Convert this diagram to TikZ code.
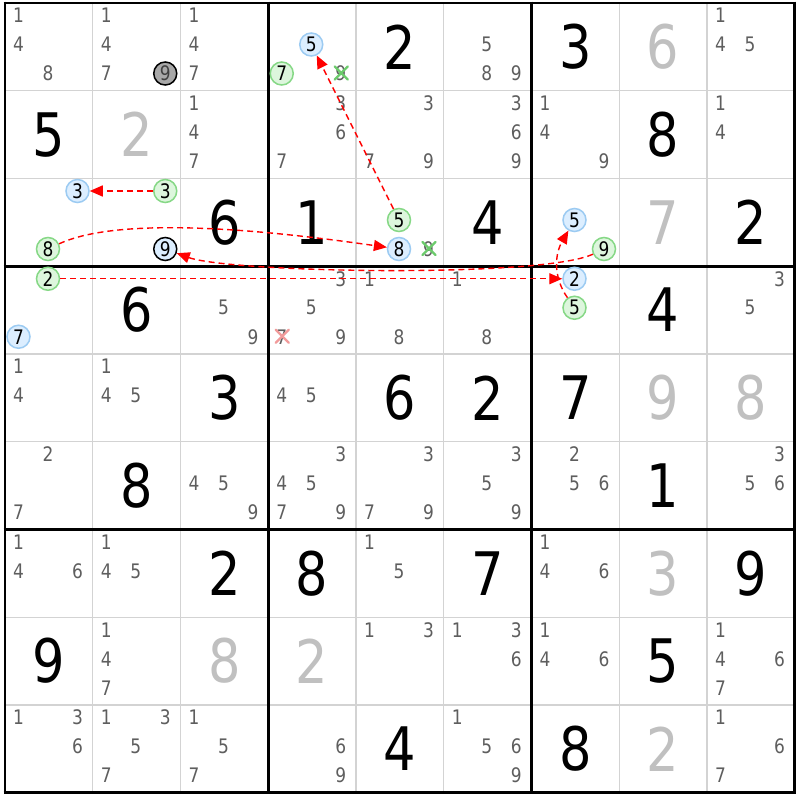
\documentclass[tikz,border=0pt]{standalone}
\usepackage{fontspec}
\setmainfont{DejaVu Sans}[FakeStretch=0.85]
\usetikzlibrary{arrows.meta}

\definecolor{pencil}{HTML}{5E5E5E}
\definecolor{faded}{HTML}{C0C0C0}
\definecolor{gridgrey}{HTML}{D3D3D3}
\definecolor{onfill}{HTML}{DCEEFF}
\definecolor{onring}{HTML}{9CCBF2}
\definecolor{offfill}{HTML}{DDF6DD}
\definecolor{offring}{HTML}{86D886}
\definecolor{pinfill}{HTML}{A8A8A8}
\definecolor{strikegreen}{HTML}{6CCB6C}
\definecolor{strikered}{HTML}{F19A9A}

\begin{document}
\begin{tikzpicture}[x=1pt,y=1pt]
	\tikzstyle{given} = [font={\fontsize{60}{60}\selectfont}, text=black];
	\tikzstyle{solved} = [given, text=faded];
	\tikzstyle{cand} = [font={\fontsize{20}{20}\selectfont}, text=pencil, inner sep=0pt];
	\tikzstyle{ring} = [cand, circle, line width=1.5pt, minimum size=23pt, text=black];
	\tikzstyle{oncand} = [ring, draw=onring, fill=onfill];
	\tikzstyle{offcand} = [ring, draw=offring, fill=offfill];
	\tikzstyle{pincand} = [ring, draw=black, fill=pinfill, text=black!75];
	\tikzstyle{pinon} = [ring, draw=black, fill=onfill];
	\tikzstyle{link} = [->, red, line width=1.4pt, dash pattern=on 6pt off 4pt, >={Triangle[length=13pt,width=11pt]}];
	\tikzstyle{strike} = [line width=2.2pt, line cap=round];

	\def \cs {87.75}

	\useasboundingbox (0,0) rectangle (800,-800);
	\fill[white] (0,0) rectangle (800,-800);

	\begin{scope}[shift={(5,-3)}]
	% grid
	\foreach \i in {1,...,8} {
		\draw[gridgrey, line width=1.3pt] (\i*\cs,0) -- (\i*\cs,-9*\cs);
		\draw[gridgrey, line width=1.3pt] (0,-\i*\cs) -- (9*\cs,-\i*\cs);
	}
	\foreach \i in {0,3,6,9} {
		\draw[black, line width=2.6pt] (\i*\cs,1.3) -- (\i*\cs,-9*\cs-1.3);
		\draw[black, line width=2.6pt] (-1.3,-\i*\cs) -- (9*\cs+1.3,-\i*\cs);
	}

	% digits
	\foreach \row/\col/\d in {1/5/2, 1/7/3, 2/1/5, 2/8/8, 3/3/6, 3/4/1, 3/6/4, 3/9/2,
		4/2/6, 4/8/4, 5/3/3, 5/5/6, 5/6/2, 5/7/7, 6/2/8, 6/8/1,
		7/3/2, 7/4/8, 7/6/7, 7/9/9, 8/1/9, 8/8/5, 9/5/4, 9/7/8}
		\node[given] (g\row\col) at ({(\col-0.5)*\cs},{-(\row-0.5)*\cs}) {\d};
	\foreach \row/\col/\d in {1/8/6, 2/2/2, 3/8/7, 5/8/9, 5/9/8, 7/8/3, 8/3/8, 8/4/2, 9/8/2}
		\node[solved] (g\row\col) at ({(\col-0.5)*\cs},{-(\row-0.5)*\cs}) {\d};

	% pencil marks
	\foreach \row/\col/\list in {1/1/{1,4,8}, 1/2/{1,4,7}, 1/3/{1,4,7}, 1/4/{9}, 1/6/{5,8,9}, 1/9/{1,4,5},
		2/3/{1,4,7}, 2/4/{3,6,7}, 2/5/{3,7,9}, 2/6/{3,6,9}, 2/7/{1,4,9}, 2/9/{1,4},
		3/5/{9},
		4/3/{5,9}, 4/4/{3,5,7,9}, 4/5/{1,8}, 4/6/{1,8}, 4/9/{3,5},
		5/1/{1,4}, 5/2/{1,4,5}, 5/4/{4,5},
		6/1/{2,7}, 6/3/{4,5,9}, 6/4/{3,4,5,7,9}, 6/5/{3,7,9}, 6/6/{3,5,9}, 6/7/{2,5,6}, 6/9/{3,5,6},
		7/1/{1,4,6}, 7/2/{1,4,5}, 7/5/{1,5}, 7/7/{1,4,6},
		8/2/{1,4,7}, 8/5/{1,3}, 8/6/{1,3,6}, 8/7/{1,4,6}, 8/9/{1,4,6,7},
		9/1/{1,3,6}, 9/2/{1,3,5,7}, 9/3/{1,5,7}, 9/4/{6,9}, 9/6/{1,5,6,9}, 9/9/{1,6,7}} {
		\foreach \k in \list
			\node[cand] (r\row c\col n\k) at ({(\col-1)*\cs+13.5+29.5*mod(\k-1,3)},{-(\row-1)*\cs-12.5-29*div(\k-1,3)}) {\k};
	}

	% chain
	\foreach \row/\col/\k/\s in {1/2/9/pincand, 1/4/5/oncand, 1/4/7/offcand,
		3/1/3/oncand, 3/1/8/offcand, 3/2/3/offcand, 3/2/9/pinon,
		3/5/5/offcand, 3/5/8/oncand, 3/7/5/oncand, 3/7/9/offcand,
		4/1/2/offcand, 4/1/7/oncand, 4/7/2/oncand, 4/7/5/offcand}
		\node[\s] (r\row c\col n\k) at ({(\col-1)*\cs+13.5+29.5*mod(\k-1,3)},{-(\row-1)*\cs-12.5-29*div(\k-1,3)}) {\k};
	\end{scope}

	% eliminations
	\foreach \n/\c in {r1c4n9/strikegreen, r3c5n9/strikegreen, r4c4n7/strikered} {
		\draw[strike, \c] ([shift={(-6,7)}]\n.center) -- ([shift={(7,-6)}]\n.center);
		\draw[strike, \c] ([shift={(7,7)}]\n.center) -- ([shift={(-6,-6)}]\n.center);
	}

	\draw[link] (r3c5n5) -- (r1c4n5);
	\draw[link] (r3c2n3) -- (r3c1n3);
	\draw[link] (r3c1n8) to[out=25, in=172, looseness=0.6] (r3c5n8);
	\draw[link] (r3c7n9) to[out=205, in=-20, looseness=0.35] (r3c2n9);
	\draw[link] (r4c1n2) -- (r4c7n2);
	\draw[link] (r4c7n5) to[out=125, in=240] (r3c7n5);
\end{tikzpicture}
\end{document}
